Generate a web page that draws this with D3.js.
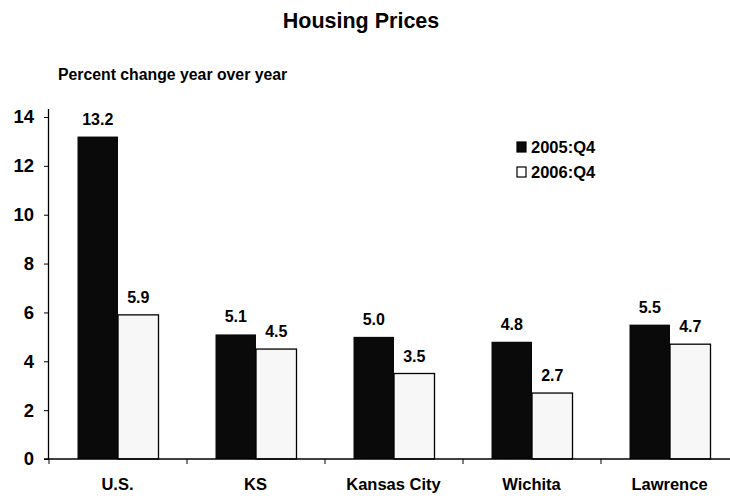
<!DOCTYPE html>
<html>
<head>
<meta charset="utf-8">
<script src="https://cdn.jsdelivr.net/npm/d3@7"></script>
<style>
  body { margin: 0; background: #fff; }
  svg { font-family: "Liberation Sans", Arial, sans-serif; font-weight: bold; }
</style>
</head>
<body>
<svg id="chart" width="730" height="496"></svg>
<script>
const categories = ["U.S.", "KS", "Kansas City", "Wichita", "Lawrence"];
const series = ["2005:Q4", "2006:Q4"];
const values2005 = [13.2, 5.1, 5.0, 4.8, 5.5];
const values2006 = [5.9, 4.5, 3.5, 2.7, 4.7];
const yTicks = [0, 2, 4, 6, 8, 10, 12, 14];

const fills = ["#0a0a0a", "#f7f7f7"];
const plotLeft = 49, plotRight = 739, plotTop = 117, plotBottom = 459;

const svg = d3.select("#chart");

const x = d3.scaleBand().domain(categories).range([plotLeft, plotRight]);
const sub = d3.scaleBand().domain(series).range([0, 81]);
const y = d3.scaleLinear().domain([0, 14]).range([plotBottom, plotTop]);

// Title
svg.append("text")
  .attr("x", 361).attr("y", 28)
  .attr("text-anchor", "middle")
  .attr("font-size", 21.5)
  .text("Housing Prices");

svg.append("text")
  .attr("x", 58).attr("y", 80)
  .attr("font-size", 15.8)
  .text("Percent change year over year");

// Bars
const rows = categories.map((c, i) => ({ c, vals: [values2005[i], values2006[i]] }));
const groups = svg.selectAll("g.cat")
  .data(rows)
  .enter().append("g")
  .attr("class", "cat")
  .attr("transform", d => `translate(${x(d.c) + (x.bandwidth() - 81) / 2},0)`);

groups.selectAll("rect")
  .data(d => d.vals.map((v, j) => ({ s: series[j], v, j })))
  .enter().append("rect")
  .attr("x", d => sub(d.s))
  .attr("width", sub.bandwidth())
  .attr("y", d => y(d.v))
  .attr("height", d => y(0) - y(d.v))
  .attr("fill", d => fills[d.j])
  .attr("stroke", "#000")
  .attr("stroke-width", d => d.j === 1 ? 1.3 : 0);

groups.selectAll("text.val")
  .data(d => d.vals.map((v, j) => ({ s: series[j], v, j })))
  .enter().append("text")
  .attr("class", "val")
  .attr("x", d => sub(d.s) + sub.bandwidth() / 2)
  .attr("y", d => y(d.v) - 12)
  .attr("text-anchor", "middle")
  .attr("font-size", 16)
  .text(d => d.v.toFixed(1));

// Y axis
const yAxis = d3.axisLeft(y).tickValues(yTicks).tickSize(5).tickPadding(10);
const gy = svg.append("g")
  .attr("transform", `translate(${plotLeft},0)`)
  .call(yAxis);
gy.select(".domain").attr("stroke-width", 1.3).attr("d", `M-0.5,${plotBottom}V${plotTop - 8}`);
gy.selectAll("text").attr("font-size", 18.5).attr("font-family", null).attr("font-weight", "bold").attr("fill", "#000");

// X axis
const gx = svg.append("g")
  .attr("transform", `translate(0,${plotBottom})`);
gx.append("line")
  .attr("x1", plotLeft - 5).attr("x2", plotRight)
  .attr("stroke", "#000").attr("stroke-width", 1.3);
gx.selectAll("line.tick")
  .data(categories)
  .enter().append("line")
  .attr("class", "tick")
  .attr("x1", d => x(d)).attr("x2", d => x(d))
  .attr("y1", 0).attr("y2", 5)
  .attr("stroke", "#000");
gx.selectAll("text")
  .data(categories)
  .enter().append("text")
  .attr("x", d => x(d) + x.bandwidth() / 2 - 0.5)
  .attr("y", 31)
  .attr("text-anchor", "middle")
  .attr("font-size", 16.5)
  .text(d => d);

// Legend
const legend = svg.selectAll("g.leg")
  .data(series)
  .enter().append("g")
  .attr("class", "leg")
  .attr("transform", (d, i) => `translate(517,${142 + i * 25})`);
legend.append("rect")
  .attr("width", 9).attr("height", 10)
  .attr("fill", (d, i) => i === 0 ? "#0a0a0a" : "#fff")
  .attr("stroke", "#000").attr("stroke-width", 1.2);
legend.append("text")
  .attr("x", 14).attr("y", 11)
  .attr("font-size", 16.5)
  .text(d => d);
</script>
</body>
</html>
